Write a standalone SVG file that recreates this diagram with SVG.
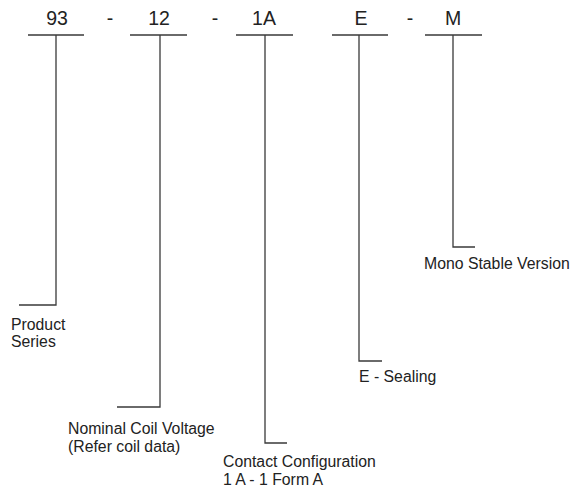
<svg xmlns="http://www.w3.org/2000/svg" width="572" height="493" viewBox="0 0 572 493">
<style>
.ln{stroke:#3a3a3a;stroke-width:1.3;fill:none}
.code{font-family:"Liberation Sans",Arial,sans-serif;font-size:19.5px;fill:#222;text-anchor:middle}
.lbl{font-family:"Liberation Sans",Arial,sans-serif;font-size:15.8px;fill:#222}
</style>
<rect width="572" height="493" fill="#fff"/>
<g id="codes">
<text class="code" x="57" y="25">93</text>
<text class="code" x="110" y="25">-</text>
<text class="code" x="159" y="25">12</text>
<text class="code" x="215" y="25">-</text>
<text class="code" x="264" y="25">1A</text>
<text class="code" x="361" y="25">E</text>
<text class="code" x="410" y="25">-</text>
<text class="code" x="453" y="25">M</text>
</g>
<g id="connectors">
<path class="ln" d="M28 35H84M56 35V305H19"/>
<path class="ln" d="M130 35H187M160 35V407H117"/>
<path class="ln" d="M236 35H293M265 35V443H287"/>
<path class="ln" d="M332 35H388M359 35V361H382"/>
<path class="ln" d="M425 35H482M453 35V247H475"/>
</g>
<g id="product-series"><text class="lbl" x="11" y="330">Product</text><text class="lbl" x="11" y="347">Series</text></g>
<g id="coil-voltage"><text class="lbl" x="68" y="434">Nominal Coil Voltage</text><text class="lbl" x="68" y="452">(Refer coil data)</text></g>
<g id="contact-config"><text class="lbl" x="223" y="467">Contact Configuration</text><text class="lbl" x="223" y="485">1 A - 1 Form A</text></g>
<g id="sealing"><text class="lbl" x="359" y="382">E - Sealing</text></g>
<g id="mono-stable"><text class="lbl" x="424" y="269">Mono Stable Version</text></g>
</svg>
